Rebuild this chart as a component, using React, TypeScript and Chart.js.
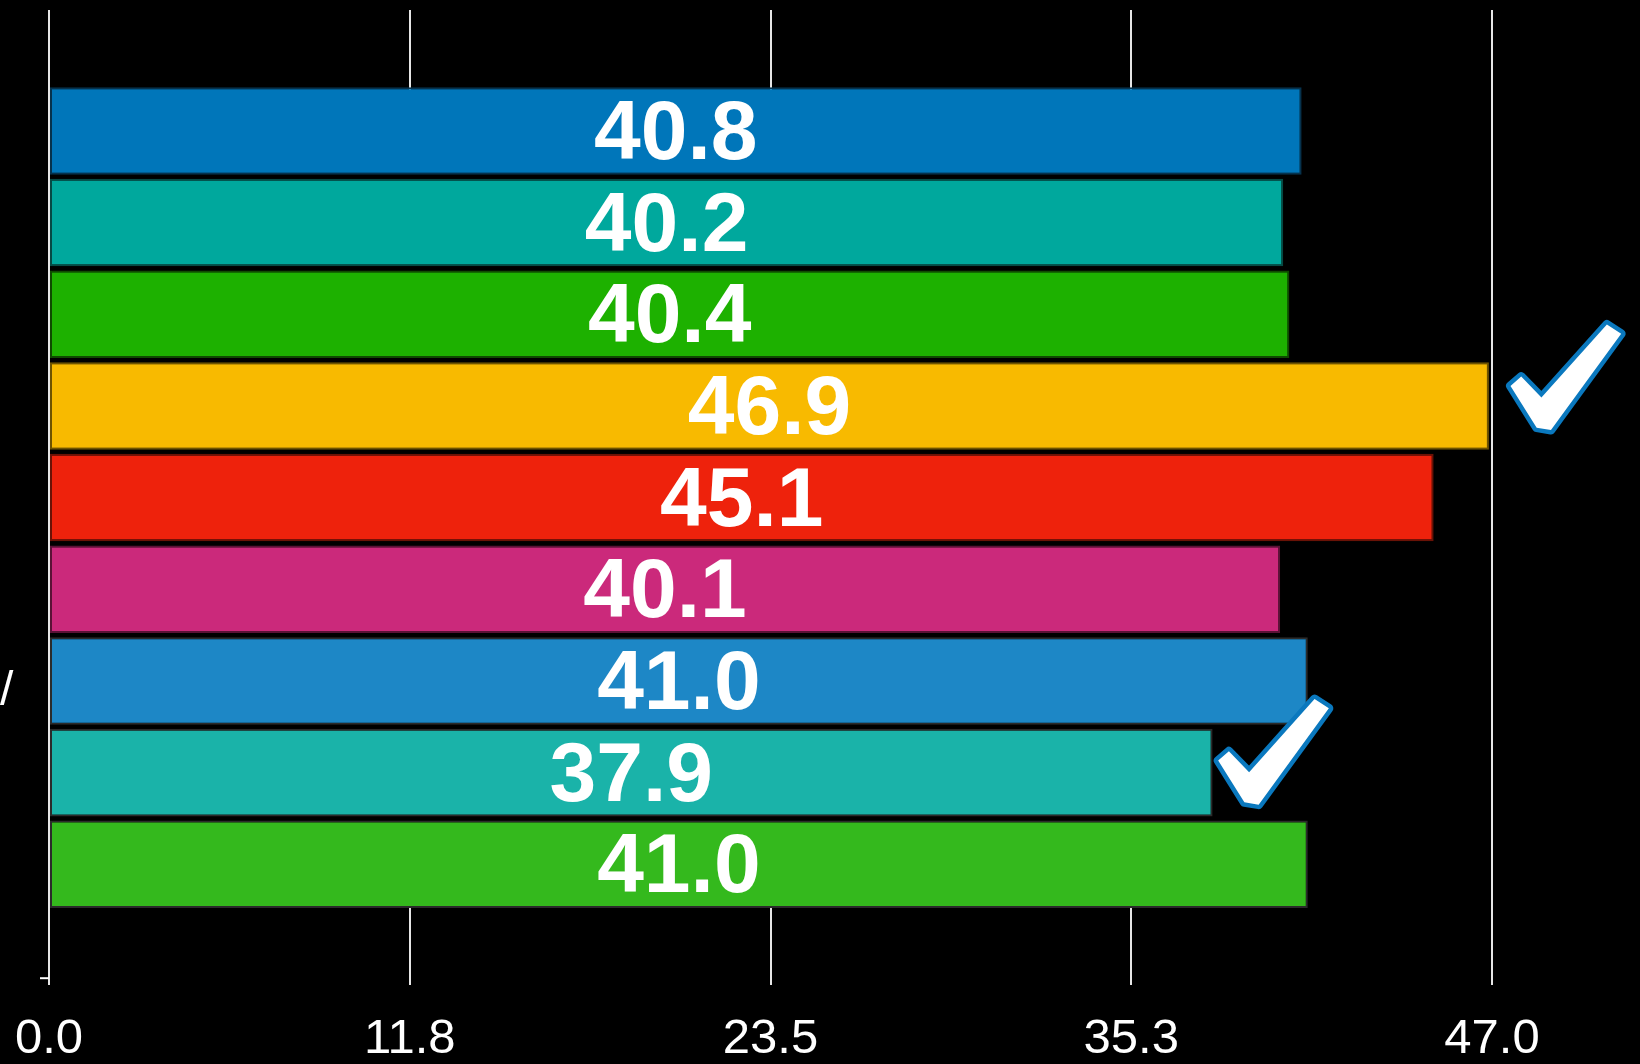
import React, { useEffect, useRef } from "react";
import { Chart, registerables } from "chart.js";

Chart.register(...registerables);

const categories = [""];
const seriesNames = ["A", "B", "C", "D", "E", "F", "G", "H", "I"];
const values = [40.8, 40.2, 40.4, 46.9, 45.1, 40.1, 41.0, 37.9, 41.0];
const fillColors = ["#0076BA", "#00A89D", "#1DB100", "#F8BA00", "#EE220C", "#CB297B", "#1D87C6", "#1AB3A9", "#34B91D"];
const borderColors = ["#06324d", "#064a44", "#0f4a00", "#6e5300", "#6a1206", "#5a1236", "#2b2b2b", "#2b2b2b", "#2b2b2b"];
const tickValues = [0, 11.75, 23.5, 35.25, 47];
const tickLabels = ["0.0", "11.8", "23.5", "35.3", "47.0"];
const checkedBars = [3, 7];

const FONT = "'Liberation Sans', Arial, Helvetica, sans-serif";

// normalized check-mark outline (inner white shape)
const CHECK_SHAPE = [
  [0.03, 0.56], [0.12, 0.48], [0.29, 0.66], [0.84, 0.03],
  [0.96, 0.11], [0.37, 0.94], [0.25, 0.92],
];
const CHECK_NUDGE = [
  { dx: 18, dy: -27 },
  { dx: 2, dy: -19 },
];

const gapPlugin = {
  id: "gapMask",
  beforeDatasetsDraw(chart: any) {
    const ctx = chart.ctx;
    const area = chart.chartArea;
    const metas = chart.data.datasets.map((_d: any, i: number) => chart.getDatasetMeta(i).data[0]);
    ctx.save();
    ctx.fillStyle = "#000000";
    for (let i = 0; i < metas.length - 1; i++) {
      const a = metas[i];
      const b = metas[i + 1];
      const top = a.y;
      const bottom = b.y;
      const right = Math.min(a.x, b.x);
      ctx.fillRect(area.left + 1, top, right - area.left - 1, bottom - top);
    }
    ctx.restore();
  },
};

const labelPlugin = {
  id: "barLabels",
  afterDatasetsDraw(chart: any) {
    const ctx = chart.ctx;
    ctx.save();
    ctx.fillStyle = "#ffffff";
    ctx.font = `bold 84px ${FONT}`;
    ctx.textAlign = "center";
    ctx.textBaseline = "middle";
    chart.data.datasets.forEach((ds: any, i: number) => {
      const meta = chart.getDatasetMeta(i);
      meta.data.forEach((el: any, j: number) => {
        const v = ds.data[j];
        const cx = (el.base + el.x) / 2;
        ctx.fillText(v.toFixed(1), cx, el.y + 5);
      });
    });
    ctx.restore();
  },
};

const decorPlugin = {
  id: "decor",
  afterDraw(chart: any) {
    const ctx = chart.ctx;
    const area = chart.chartArea;
    const xs = chart.scales.x;
    ctx.save();
    // small tick at bottom-left
    ctx.strokeStyle = "#ffffff";
    ctx.lineWidth = 2;
    ctx.beginPath();
    ctx.moveTo(area.left - 9, area.bottom - 7);
    ctx.lineTo(area.left, area.bottom - 7);
    ctx.stroke();
    // clipped glyph at left edge
    ctx.fillStyle = "#ffffff";
    ctx.font = `48px ${FONT}`;
    ctx.textAlign = "left";
    ctx.textBaseline = "alphabetic";
    ctx.fillText("/", 0, 705);
    // check marks
    const w = 119;
    const h = 116;
    checkedBars.forEach((idx, k) => {
      const meta = chart.getDatasetMeta(idx);
      const el = meta.data[0];
      const x0 = xs.getPixelForValue(values[idx]) + CHECK_NUDGE[k].dx;
      const y0 = el.y + CHECK_NUDGE[k].dy - h / 2;
      ctx.beginPath();
      CHECK_SHAPE.forEach(([px, py], n) => {
        const X = x0 + px * w;
        const Y = y0 + py * h;
        if (n === 0) ctx.moveTo(X, Y);
        else ctx.lineTo(X, Y);
      });
      ctx.closePath();
      ctx.lineJoin = "round";
      ctx.lineWidth = 9;
      ctx.strokeStyle = "#0A78BE";
      ctx.stroke();
      ctx.fillStyle = "#ffffff";
      ctx.fill();
    });
    ctx.restore();
  },
};

export default function App() {
  const ref = useRef<HTMLCanvasElement | null>(null);
  useEffect(() => {
    document.body.style.margin = "0";
    document.body.style.background = "#000";
    const canvas = ref.current!;
    const chart = new Chart(canvas, {
      type: "bar",
      data: {
        labels: categories,
        datasets: seriesNames.map((name, i) => ({
          label: name,
          data: [values[i]],
          backgroundColor: fillColors[i],
          borderColor: borderColors[i],
          borderWidth: 2,
          borderSkipped: false,
          categoryPercentage: 0.846,
          barPercentage: 0.955,
        })),
      },
      options: {
        indexAxis: "y",
        animation: false,
        responsive: false,
        devicePixelRatio: 1,
        layout: { padding: { left: 49, right: 148, top: 10, bottom: -29 } },
        plugins: {
          legend: { display: false },
          tooltip: { enabled: false },
          title: { display: false },
        },
        scales: {
          x: {
            type: "linear",
            min: 0,
            max: 47,
            afterBuildTicks: (axis: any) => {
              axis.ticks = tickValues.map((v) => ({ value: v }));
            },
            ticks: {
              color: "#ffffff",
              font: { family: FONT, size: 49, lineHeight: 2.2 },
              padding: 0,
              maxRotation: 0,
              autoSkip: false,
              callback: (_v: any, i: number) => tickLabels[i],
            },
            grid: {
              color: "#e6e6e6",
              lineWidth: 2,
              drawTicks: false,
              tickLength: 0,
            },
            border: { display: false },
          },
          y: {
            type: "category",
            display: false,
          },
        },
      },
      plugins: [gapPlugin, labelPlugin, decorPlugin],
    } as any);
    return () => chart.destroy();
  }, []);
  return (
    <div style={{ position: "absolute", left: 0, top: 0, width: 1640, height: 1064, overflow: "hidden", background: "#000" }}>
      <canvas ref={ref} width={1640} height={1064} style={{ display: "block", width: 1640, height: 1064 }} />
    </div>
  );
}
